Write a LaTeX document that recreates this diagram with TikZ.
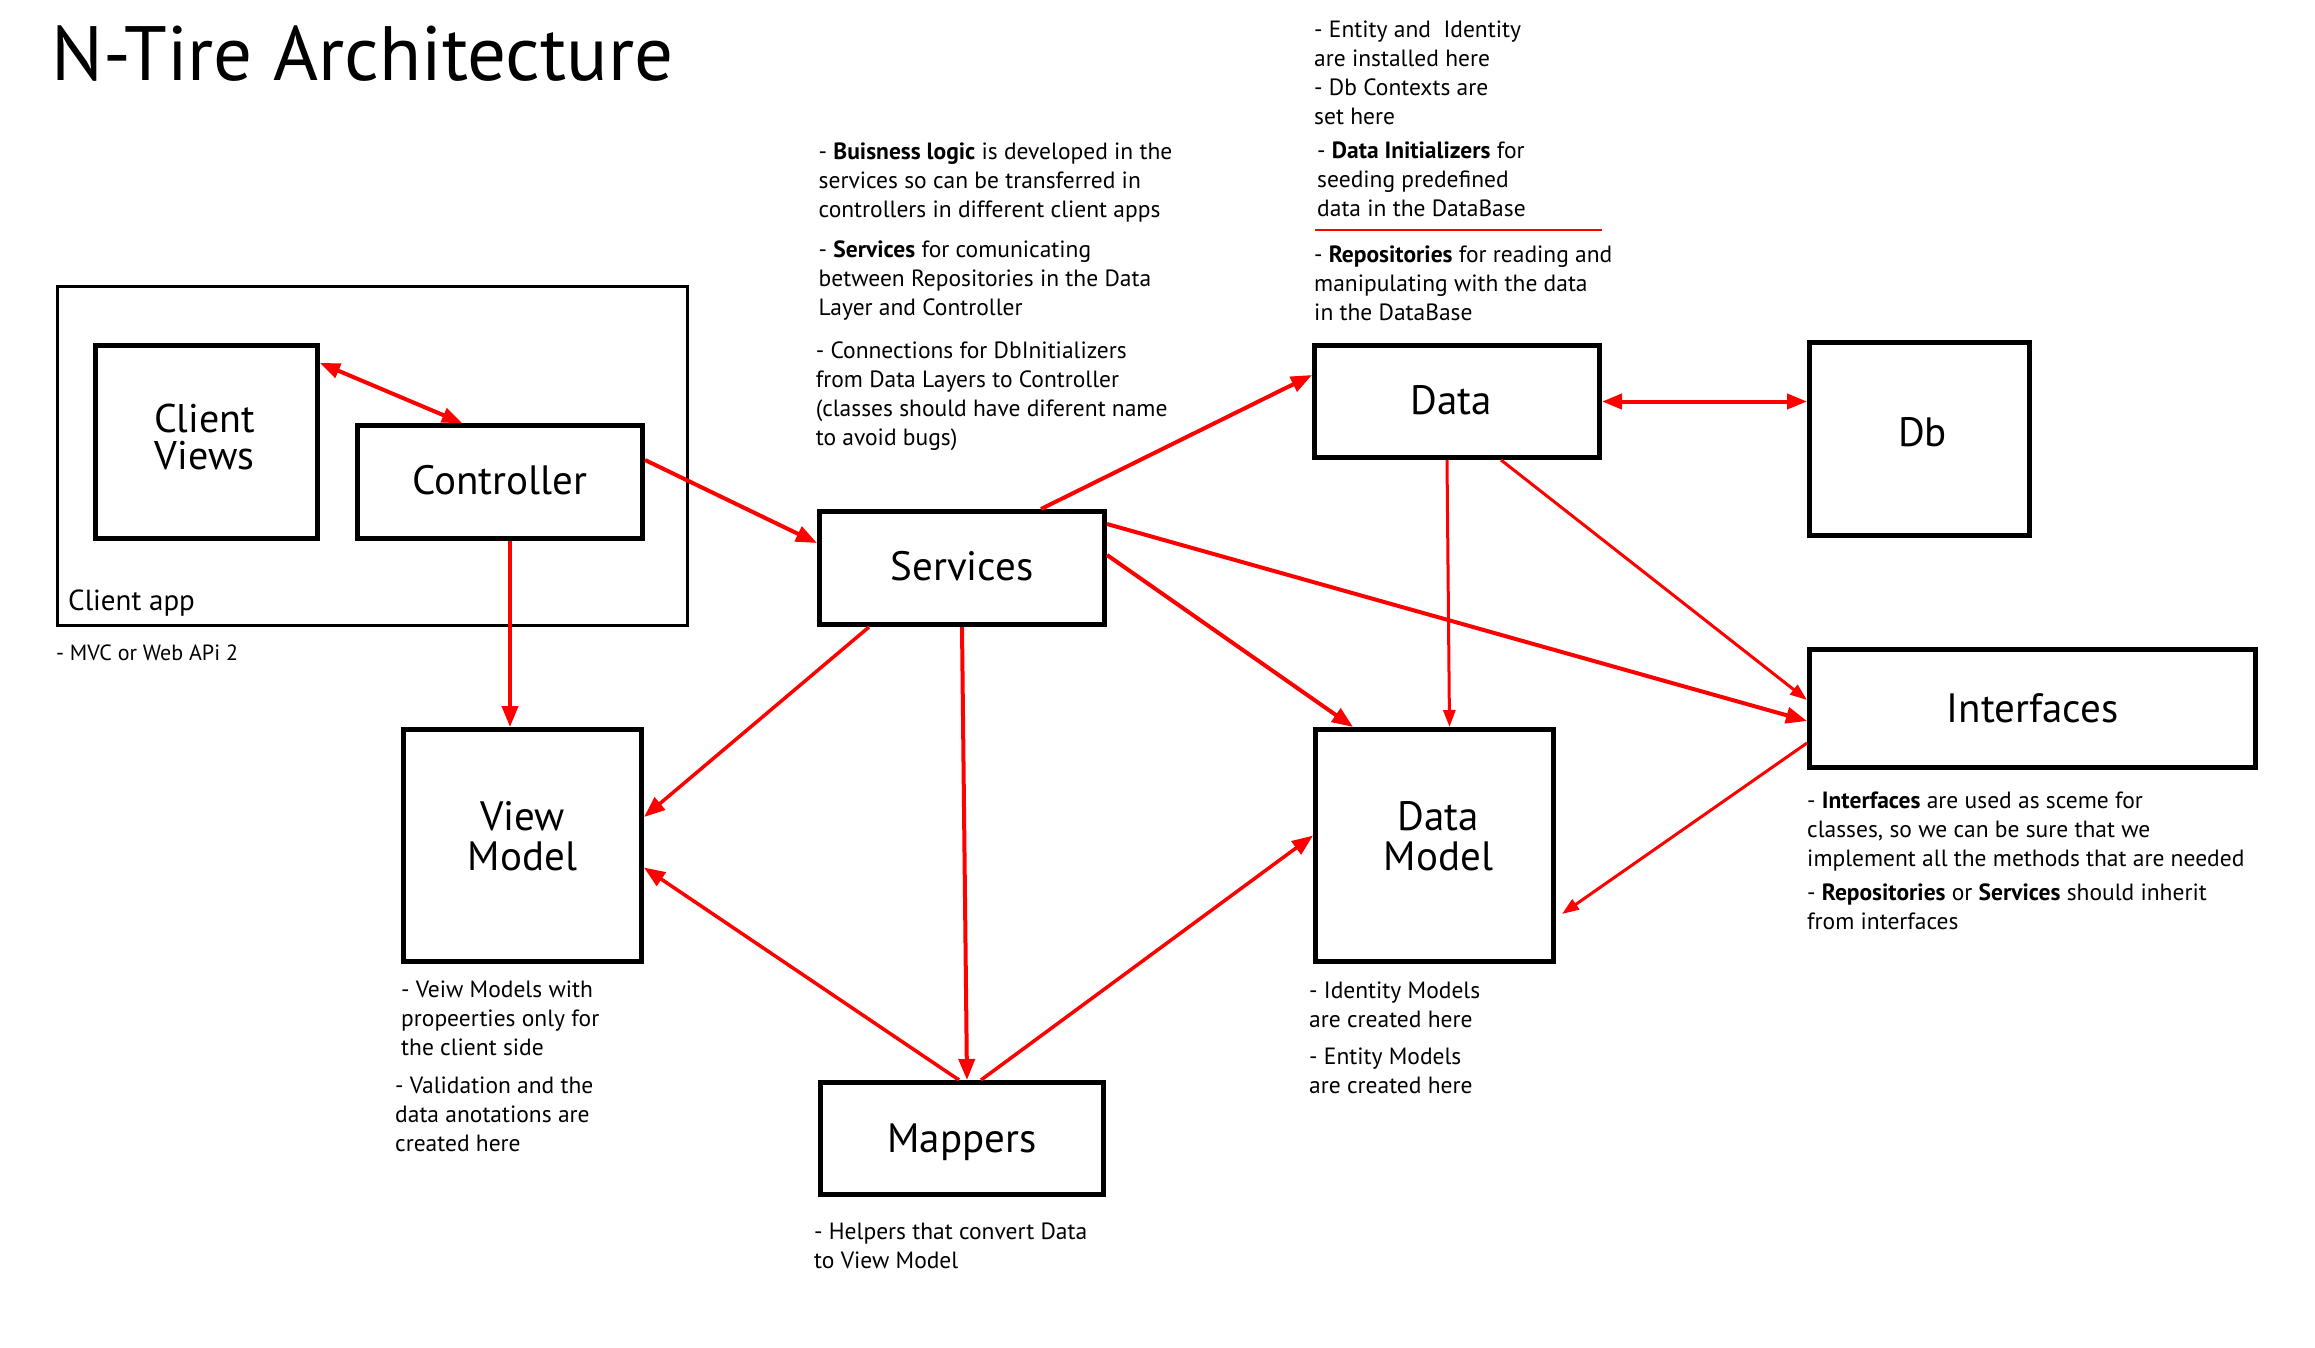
\documentclass[tikz,border=0pt]{standalone}
\usepackage{fontspec}
\setmainfont{PT Sans}
\usetikzlibrary{arrows.meta,calc}
\begin{document}
\begin{tikzpicture}[x=1pt,y=-1pt,
  box/.style={draw=black,line width=5pt,rectangle,inner sep=0pt},
  boxtext/.style={inner sep=0pt,align=center,font=\fontsize{41}{40}\selectfont},
  outerbox/.style={draw=black,line width=3pt,rectangle,inner sep=0pt},
  note/.style={anchor=base west,inner sep=0pt,font=\fontsize{23.5}{29}\selectfont},
  conn/.style={draw=red,line width=4pt,-{Triangle[length=21pt,width=16pt]}},
  connthin/.style={draw=red,line width=3pt,-{Triangle[length=17pt,width=12pt]}},
  biconn/.style={draw=red,line width=4pt,{Triangle[length=20pt,width=15pt]}-{Triangle[length=20pt,width=15pt]}},
]
\useasboundingbox[fill=white] (0,0) rectangle (2315,1347);

\node[anchor=base west,inner sep=0pt,font=\fontsize{77}{90}\selectfont] (title) at (51,80) {N-Tire Architecture};

% client app
\node[outerbox,minimum width=630pt,minimum height=339pt] (clientapp) at (372.5,456) {};
\node[anchor=base west,inner sep=0pt,font=\fontsize{29}{34}\selectfont] (clientapplbl) at (68,610) {Client app};
\node[note,font=\fontsize{22}{26}\selectfont] (mvc) at (56,660) {- MVC or Web APi 2};

% boxes
\node[box,minimum width=222pt,minimum height=193pt] (clientviews) at (206.5,442) {};
\node[box,minimum width=285pt,minimum height=113pt] (controller) at (500,482) {};
\node[box,minimum width=285pt,minimum height=113pt] (services) at (962,568) {};
\node[box,minimum width=285pt,minimum height=112pt] (data) at (1457,401.5) {};
\node[box,minimum width=220pt,minimum height=193pt] (db) at (1919.5,439) {};
\node[box,minimum width=446pt,minimum height=118pt] (interfaces) at (2032.5,708.5) {};
\node[box,minimum width=238pt,minimum height=232pt] (viewmodel) at (522.5,845.5) {};
\node[box,minimum width=238pt,minimum height=232pt] (datamodel) at (1434.5,845.5) {};
\node[box,minimum width=283pt,minimum height=112pt] (mappers) at (962,1138.5) {};

% box labels
\node[boxtext,font=\fontsize{40}{37}\selectfont] (clientviewsT) at ([xshift=-2pt,yshift=5pt]clientviews.center) {Client\\Views};
\node[boxtext] (controllerT) at ([yshift=2pt]controller.center) {Controller};
\node[boxtext] (servicesT) at ([yshift=2pt]services.center) {Services};
\node[boxtext] (dataT) at ([xshift=-6pt,yshift=1pt]data.center) {Data};
\node[boxtext] (dbT) at ([xshift=3pt,yshift=7pt]db.center) {Db};
\node[boxtext] (interfacesT) at (interfaces.center) {Interfaces};
\node[boxtext] (viewmodelT) at ([yshift=9pt]viewmodel.center) {View\\Model};
\node[boxtext] (datamodelT) at ([xshift=4pt,yshift=9pt]datamodel.center) {Data\\Model};
\node[boxtext] (mappersT) at ([yshift=-4pt]mappers.center) {Mappers};

% notes
\node[note] (svcnote) at (818.5,159.6) {\parbox[t]{600pt}{\raggedright
- \textbf{Buisness logic} is developed in the\\
services so can be transferred in\\
controllers in different client apps\\[10.4pt]
- \textbf{Services} for comunicating\\
between Repositories in the Data\\
Layer and Controller}};
\node[note] (connnote) at (815.6,358.5) {\parbox[t]{600pt}{\raggedright
- Connections for DbInitializers\\
from Data Layers to Controller\\
(classes should have diferent name\\
to avoid bugs)}};

\node[note] (datanote) at (1314,37.3) {\parbox[t]{600pt}{\raggedright
- Entity and\ \ Identity\\
are installed here\\
- Db Contexts are\\
set here}};
\node[note] (initnote) at (1317,158.8) {\parbox[t]{600pt}{\raggedright
- \textbf{Data Initializers} for\\
seeding predefined\\
data in the DataBase}};
\draw[red,line width=1.5pt] (1315,230) -- (1602,230);
\node[note] (reponote) at (1314,262) {\parbox[t]{600pt}{\raggedright
- \textbf{Repositories} for reading and\\
manipulating with the data\\
in the DataBase}};

\node[note] (vmnote) at (401,997) {\parbox[t]{600pt}{\raggedright
- Veiw Models with\\
propeerties only for\\
the client side}};
\node[note] (valnote) at (395,1093) {\parbox[t]{600pt}{\raggedright
- Validation and the\\
data anotations are\\
created here}};

\node[note] (dmnote) at (1309,998) {\parbox[t]{600pt}{\raggedright
- Identity Models\\
are created here}};
\node[note] (entnote) at (1309,1064) {\parbox[t]{600pt}{\raggedright
- Entity Models\\
are created here}};

\node[note] (ifnote) at (1807,808) {\parbox[t]{700pt}{\raggedright
- \textbf{Interfaces} are used as sceme for\\
classes, so we can be sure that we\\
implement all the methods that are needed\\[5pt]
- \textbf{Repositories} or \textbf{Services} should inherit\\
from interfaces}};

\node[note] (mapnote) at (814,1239) {\parbox[t]{600pt}{\raggedright
- Helpers that convert Data\\
to View Model}};

% connectors
\draw[biconn] ([yshift=-20pt]clientviews.north east) -- ([xshift=107pt]controller.north west);
\draw[conn] ([yshift=-37pt]controller.north east) -- ([yshift=-34pt]services.north west);
\coordinate (c1) at ([xshift=10pt]controller.south);
\draw[conn] (c1) -- (c1 |- viewmodel.north);
\draw[conn] ([xshift=224pt]services.north west) -- ([yshift=-32pt]data.north west);
\draw[conn,line width=3.5pt] ([xshift=52pt]services.south west) -- ([yshift=-90pt]viewmodel.north east);
\draw[conn] (services.south) -- ([xshift=5pt]mappers.north);
\draw[conn] ([yshift=-46pt]services.north east) -- ([xshift=40pt]datamodel.north west);
\draw[conn] ([yshift=-15pt]services.north east) -- ([yshift=-74pt]interfaces.north west);
\draw[connthin] ([xshift=-10pt]data.south) -- ([xshift=15pt]datamodel.north);
\draw[connthin] ([xshift=-101pt]data.south east) -- ([yshift=-53pt]interfaces.north west);
\draw[biconn] (data.east) -- (data.east -| db.west);
\draw[connthin] ([yshift=-96pt]interfaces.north west) -- ([xshift=6pt,yshift=50pt]datamodel.south east);
\draw[conn,line width=3.5pt] ([xshift=-3pt]mappers.north) -- ([yshift=-22pt]viewmodel.east);
\draw[conn,line width=3.5pt] ([xshift=19pt]mappers.north) -- ([yshift=10pt]datamodel.west);
\end{tikzpicture}
\end{document}
